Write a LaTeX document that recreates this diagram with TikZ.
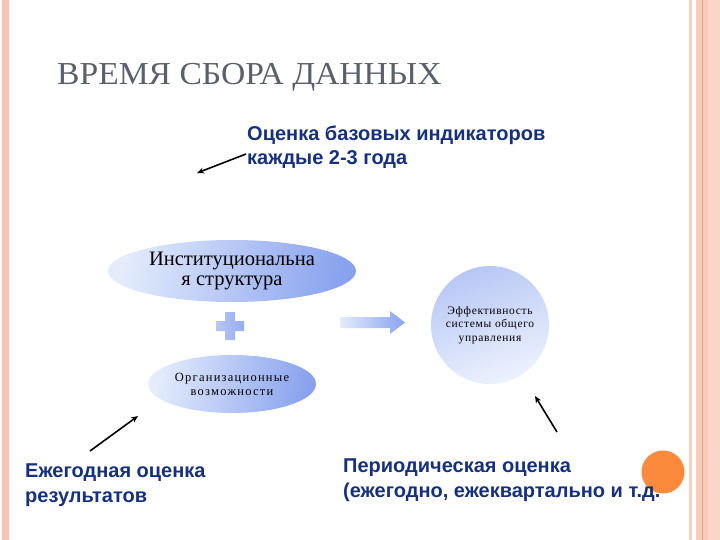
\documentclass[tikz,border=0pt]{standalone}
\usepackage{fontspec}
\setmainfont{Liberation Serif}
\newfontfamily\arialfont{Liberation Sans}
\newfontfamily\spacedserif[LetterSpace=10]{Liberation Serif}
\newfontfamily\spacedserifb[LetterSpace=6]{Liberation Serif}
\usetikzlibrary{shapes.geometric,arrows.meta}
\definecolor{navy}{HTML}{15307E}
\definecolor{titlegray}{HTML}{5A5F6C}
\definecolor{stripe}{HTML}{F7C5B2}
\definecolor{stripedark}{HTML}{E9A07F}
\definecolor{bluelight}{HTML}{E4ECFC}
\definecolor{bluedark}{HTML}{88A2EE}
\definecolor{orangedot}{HTML}{FB8A3C}
\tikzset{
  blobbig/.style={ellipse, inner sep=0pt, left color=bluelight, right color=bluedark, shading angle=80, align=center, text=black},
  circ/.style={circle, inner sep=0pt, top color=bluedark!60!white, bottom color=bluelight!70!white, shading angle=20, align=center, text=black},
  navytext/.style={font=\arialfont\bfseries\fontsize{20}{24.5}\selectfont, text=navy, align=left, inner sep=0pt},
  pointer/.style={draw=black, line width=1.6pt, -{Stealth[length=7pt,width=6pt]}},
}
\begin{document}
\begin{tikzpicture}[x=1pt,y=-1pt]
\useasboundingbox (0,0) rectangle (720,540);
% border stripes
\fill[stripe] (2,0) rectangle (9,540);
\fill[stripe!80!white] (689,0) rectangle (692,540);
\fill[stripe!90!white] (696,0) rectangle (720,540);
\fill[stripedark] (701.5,0) rectangle (703,540);
\fill[stripe!70!white] (708,0) rectangle (720,540);
% orange dot
\node[circle, fill=orangedot, minimum size=43, inner sep=0pt] (dot) at (663,472) {};
% title
\node[anchor=base west, inner sep=0pt, text=titlegray, font=\fontsize{32}{36}\selectfont, xscale=1.05] (title) at (57,85) {ВРЕМЯ СБОРА ДАННЫХ};
% top annotation
\node[navytext, anchor=base west] (base) at (247,165) {Оценка базовых индикаторов\\каждые 2-3 года};
\coordinate (baseTail) at (246,154);
\coordinate (baseHead) at (197,173);
\draw[pointer] (baseTail) -- (baseHead);
% ellipses
\node[blobbig, minimum width=248, minimum height=62, font=\fontsize{20.5}{20}\selectfont] (inst) at (232,271) {Институциональна\\я структура};
\node[blobbig, minimum width=168, minimum height=58, font=\spacedserif\fontsize{12.5}{14}\selectfont] (org) at (232,384) {Организационные\\возможности};
% plus
\shade[left color=bluedark!60!white, right color=bluedark!90!white] (225,312) -- (235,312) -- (235,321) -- (244,321) -- (244,331) -- (235,331) -- (235,340) -- (225,340) -- (225,331) -- (216,331) -- (216,321) -- (225,321) -- cycle;
% block arrow
\shade[left color=bluelight, right color=bluedark] (340,317) -- (390,317) -- (390,311) -- (405,322.5) -- (390,334) -- (390,328) -- (340,328) -- cycle;
% circle
\node[circ, minimum size=118, font=\spacedserifb\fontsize{11.5}{13.5}\selectfont] (eff) at (490,325) {Эффективность\\системы общего\\управления};
% bottom annotations
\node[navytext, anchor=base west] (annual) at (25,502) {Ежегодная оценка\\результатов};
\coordinate (annualTail) at (90,451);
\coordinate (annualHead) at (138,416);
\draw[pointer] (annualTail) -- (annualHead);
\node[navytext, anchor=base west] (period) at (343,497) {Периодическая оценка\\(ежегодно, ежеквартально и т.д.};
\coordinate (periodTail) at (557,432);
\coordinate (periodHead) at (535,396);
\draw[pointer] (periodTail) -- (periodHead);
\end{tikzpicture}
\end{document}
